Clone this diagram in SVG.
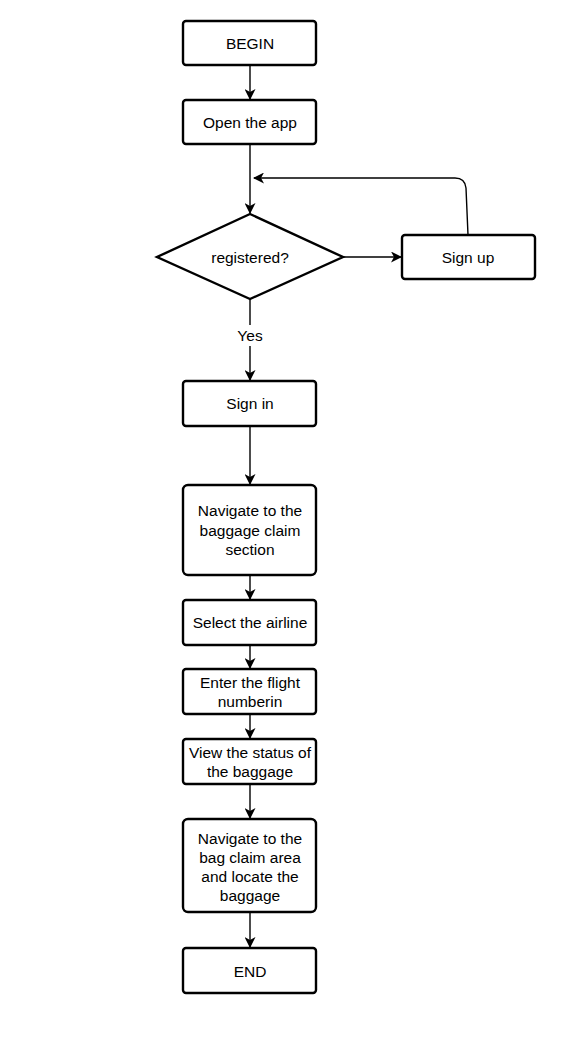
<svg xmlns="http://www.w3.org/2000/svg" width="580" height="1044" viewBox="0 0 580 1044">
<style>
.n{fill:#fff;stroke:#000;stroke-width:2.4}
.t{font-family:"Liberation Sans",Arial,sans-serif;font-size:15.5px;fill:#000;text-anchor:middle}
.c{fill:none;stroke:#000;stroke-width:1.4}
</style>
<defs>
<marker id="a" viewBox="0 0 11 11" refX="10" refY="5.5" markerWidth="11" markerHeight="11" markerUnits="userSpaceOnUse" orient="auto">
<path d="M0,0 L11,5.5 L0,11 L3,5.5 Z" fill="#000"/>
</marker>
</defs>
<rect width="580" height="1044" fill="#fff"/>
<g id="connectors">
<path class="c" d="M250,65 V99" marker-end="url(#a)"/>
<path class="c" d="M250,144 V213" marker-end="url(#a)"/>
<path class="c" d="M343,257 H401" marker-end="url(#a)"/>
<path class="c" d="M468,235 L466,188 Q465,178 455,178 H254" marker-end="url(#a)"/>
<path class="c" d="M250,299 V325 M250,346 V380" marker-end="url(#a)"/>
<path class="c" d="M250,426 V484" marker-end="url(#a)"/>
<path class="c" d="M250,575 V599" marker-end="url(#a)"/>
<path class="c" d="M250,645 V668" marker-end="url(#a)"/>
<path class="c" d="M250,714 V738" marker-end="url(#a)"/>
<path class="c" d="M250,784 V818" marker-end="url(#a)"/>
<path class="c" d="M250,912 V947" marker-end="url(#a)"/>
<text class="t" x="250" y="341">Yes</text>
</g>
<g id="begin"><rect class="n" x="183" y="21" width="133" height="44" rx="3"/><text class="t" x="250" y="49">BEGIN</text></g>
<g id="open"><rect class="n" x="183" y="100" width="133" height="44" rx="3"/><text class="t" x="250" y="128">Open the app</text></g>
<g id="registered"><path class="n" d="M250,214 L343,257 L250,299 L157,257 Z"/><text class="t" x="250" y="263">registered?</text></g>
<g id="signup"><rect class="n" x="402" y="235" width="133" height="44" rx="3"/><text class="t" x="468" y="263">Sign up</text></g>
<g id="signin"><rect class="n" x="183" y="381" width="133" height="45" rx="3"/><text class="t" x="250" y="409">Sign in</text></g>
<g id="navigate"><rect class="n" x="183" y="485" width="133" height="90" rx="5"/><text class="t" x="250" y="516">Navigate to the</text><text class="t" x="250" y="536">baggage claim</text><text class="t" x="250" y="555">section</text></g>
<g id="select"><rect class="n" x="183" y="600" width="133" height="45" rx="3"/><text class="t" x="250" y="628">Select the airline</text></g>
<g id="enter"><rect class="n" x="183" y="669" width="133" height="45" rx="3"/><text class="t" x="250" y="688">Enter the flight</text><text class="t" x="250" y="707">numberin</text></g>
<g id="view"><rect class="n" x="183" y="739" width="133" height="45" rx="3"/><text class="t" x="250" y="758">View the status of</text><text class="t" x="250" y="777">the baggage</text></g>
<g id="locate"><rect class="n" x="183" y="819" width="133" height="93" rx="5"/><text class="t" x="250" y="844">Navigate to the</text><text class="t" x="250" y="863">bag claim area</text><text class="t" x="250" y="882">and locate the</text><text class="t" x="250" y="901">baggage</text></g>
<g id="end"><rect class="n" x="183" y="948" width="133" height="45" rx="3"/><text class="t" x="250" y="977">END</text></g>
</svg>
